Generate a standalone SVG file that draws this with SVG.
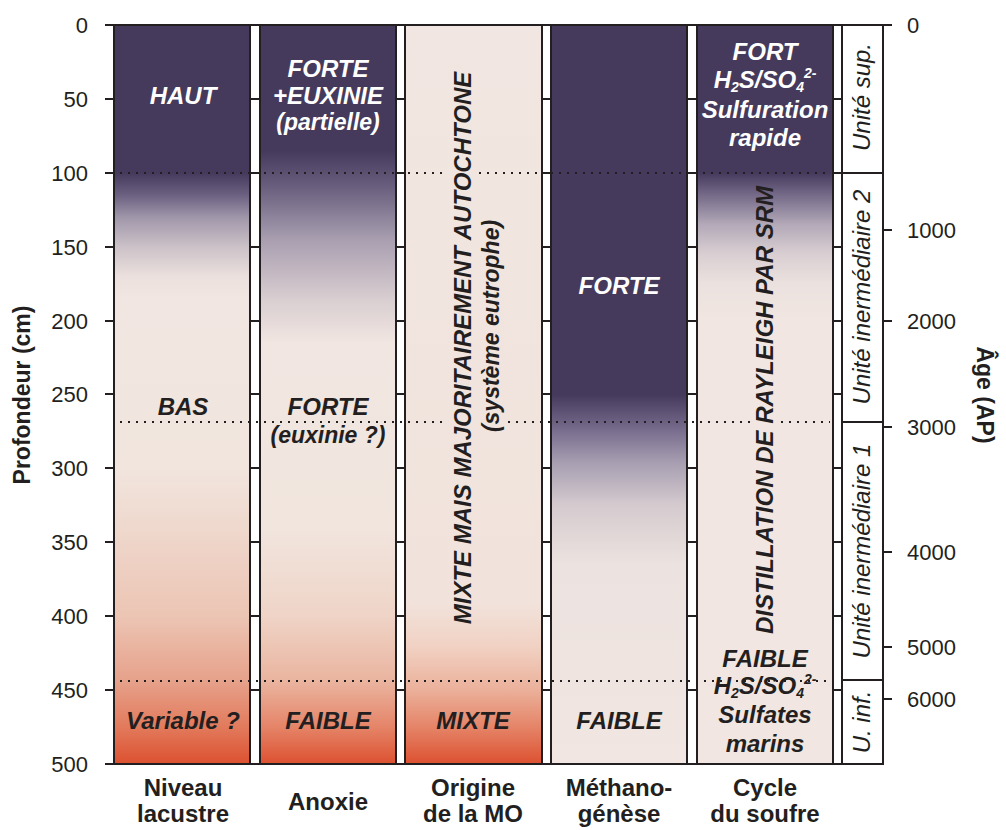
<svg xmlns="http://www.w3.org/2000/svg" width="1006" height="830" viewBox="0 0 1006 830">
<defs>
<style>
text{font-family:"Liberation Sans",Arial,sans-serif;fill:#231f20}
.ax{font-size:22px}
.axt{font-size:23px;font-weight:bold}
.lab{font-size:24px;font-weight:bold;font-style:italic;text-anchor:middle}
.par{font-size:23px}
.w{fill:#ffffff}
.bot{font-size:24px;font-weight:bold;text-anchor:middle}
.unit{font-size:24px;font-style:italic;text-anchor:middle}
.col{stroke:#231f20;stroke-width:2}
.tick{stroke:#231f20;stroke-width:2}
.dot{stroke:#231f20;stroke-width:2;stroke-dasharray:2 6}
.sub{font-size:14px}
</style>
<linearGradient id="g1" gradientUnits="userSpaceOnUse" x1="0" y1="25" x2="0" y2="764">
<stop offset="0.2" stop-color="#453a5c"/>
<stop offset="0.23" stop-color="#6b6080"/>
<stop offset="0.26" stop-color="#9f96aa"/>
<stop offset="0.3" stop-color="#cbc1c7"/>
<stop offset="0.34" stop-color="#ebe0dd"/>
<stop offset="0.37" stop-color="#f1e6e1"/>
<stop offset="0.6" stop-color="#f1e5de"/>
<stop offset="0.8" stop-color="#ecc5b4"/>
<stop offset="0.89" stop-color="#e6a089"/>
<stop offset="0.95" stop-color="#e27a5c"/>
<stop offset="1" stop-color="#dc5130"/>
</linearGradient>
<linearGradient id="g2" gradientUnits="userSpaceOnUse" x1="0" y1="25" x2="0" y2="764">
<stop offset="0.17" stop-color="#453a5c"/>
<stop offset="0.22" stop-color="#6a5f7e"/>
<stop offset="0.29" stop-color="#a89eb0"/>
<stop offset="0.37" stop-color="#d8cdd0"/>
<stop offset="0.43" stop-color="#f1e6e1"/>
<stop offset="0.68" stop-color="#f1e5de"/>
<stop offset="0.8" stop-color="#efd4c7"/>
<stop offset="0.89" stop-color="#eab39e"/>
<stop offset="0.95" stop-color="#e58468"/>
<stop offset="1" stop-color="#dc5130"/>
</linearGradient>
<linearGradient id="g3" gradientUnits="userSpaceOnUse" x1="0" y1="25" x2="0" y2="764">
<stop offset="0" stop-color="#f1e6e1"/>
<stop offset="0.78" stop-color="#f1e3dc"/>
<stop offset="0.84" stop-color="#f1d2c4"/>
<stop offset="0.9" stop-color="#ebb09a"/>
<stop offset="0.95" stop-color="#e58468"/>
<stop offset="1" stop-color="#dc5130"/>
</linearGradient>
<linearGradient id="g4" gradientUnits="userSpaceOnUse" x1="0" y1="25" x2="0" y2="764">
<stop offset="0.5" stop-color="#453a5c"/>
<stop offset="0.545" stop-color="#75698a"/>
<stop offset="0.59" stop-color="#a59cb0"/>
<stop offset="0.65" stop-color="#d5cbcf"/>
<stop offset="0.73" stop-color="#ece2df"/>
<stop offset="1" stop-color="#f1e6e1"/>
</linearGradient>
<linearGradient id="g5" gradientUnits="userSpaceOnUse" x1="0" y1="25" x2="0" y2="764">
<stop offset="0.2" stop-color="#453a5c"/>
<stop offset="0.23" stop-color="#756a88"/>
<stop offset="0.27" stop-color="#b3a9b8"/>
<stop offset="0.31" stop-color="#d9cfd2"/>
<stop offset="0.35" stop-color="#ebe1de"/>
<stop offset="0.4" stop-color="#f1e6e1"/>
<stop offset="1" stop-color="#f1e6e1"/>
</linearGradient>
</defs>
<rect width="1006" height="830" fill="#ffffff"/>

<g id="axes">
<g class="tick">
<line x1="105" y1="99" x2="842" y2="99"/>
<line x1="105" y1="173" x2="842" y2="173"/>
<line x1="105" y1="247" x2="842" y2="247"/>
<line x1="105" y1="321" x2="842" y2="321"/>
<line x1="105" y1="394" x2="842" y2="394"/>
<line x1="105" y1="468" x2="842" y2="468"/>
<line x1="105" y1="542" x2="842" y2="542"/>
<line x1="105" y1="616" x2="842" y2="616"/>
<line x1="105" y1="690" x2="842" y2="690"/>
<line x1="883" y1="230" x2="892" y2="230"/>
<line x1="883" y1="321" x2="892" y2="321"/>
<line x1="883" y1="427" x2="892" y2="427"/>
<line x1="883" y1="552" x2="892" y2="552"/>
<line x1="883" y1="647" x2="892" y2="647"/>
<line x1="883" y1="699" x2="892" y2="699"/>
</g>
<g class="ax" text-anchor="end">
<text x="88" y="33">0</text>
<text x="88" y="107">50</text>
<text x="88" y="181">100</text>
<text x="88" y="255">150</text>
<text x="88" y="329">200</text>
<text x="88" y="402">250</text>
<text x="88" y="476">300</text>
<text x="88" y="550">350</text>
<text x="88" y="624">400</text>
<text x="88" y="698">450</text>
<text x="88" y="772">500</text>
</g>
<g class="ax">
<text x="907" y="33">0</text>
<text x="907" y="238">1000</text>
<text x="907" y="329">2000</text>
<text x="907" y="435">3000</text>
<text x="907" y="560">4000</text>
<text x="907" y="655">5000</text>
<text x="907" y="707">6000</text>
</g>
<text class="axt" text-anchor="middle" transform="translate(30,395) rotate(-90)">Profondeur (cm)</text>
<text class="axt" text-anchor="middle" transform="translate(977,395) rotate(90)">Âge (AP)</text>
</g>

<g id="col-niveau">
<rect class="col" x="114" y="25" width="136" height="739" fill="url(#g1)"/>
<text class="lab w" x="183" y="104">HAUT</text>
<text class="lab" x="183" y="415">BAS</text>
<text class="lab" x="183" y="729">Variable ?</text>
<text class="bot" x="183" y="796">Niveau</text>
<text class="bot" x="183" y="822">lacustre</text>
</g>

<g id="col-anoxie">
<rect class="col" x="260" y="25" width="136" height="739" fill="url(#g2)"/>
<text class="lab w" x="328" y="77">FORTE</text>
<text class="lab w" x="328" y="104">+EUXINIE</text>
<text class="lab w par" x="328" y="130">(partielle)</text>
<text class="lab" x="328" y="415">FORTE</text>
<text class="lab par" x="328" y="443">(euxinie ?)</text>
<text class="lab" x="328" y="729">FAIBLE</text>
<text class="bot" x="328" y="810">Anoxie</text>
</g>

<g id="col-origine">
<rect class="col" x="405" y="25" width="137" height="739" fill="url(#g3)"/>
<text class="lab" transform="translate(471,348) rotate(-90)">MIXTE MAIS MAJORITAIREMENT AUTOCHTONE</text>
<text class="lab par" transform="translate(499,326) rotate(-90)">(système eutrophe)</text>
<text class="lab" x="473" y="729">MIXTE</text>
<text class="bot" x="473" y="796">Origine</text>
<text class="bot" x="473" y="822">de la MO</text>
</g>

<g id="col-methano">
<rect class="col" x="551" y="25" width="136" height="739" fill="url(#g4)"/>
<text class="lab w" x="619" y="294">FORTE</text>
<text class="lab" x="619" y="729">FAIBLE</text>
<text class="bot" x="619" y="796">Méthano-</text>
<text class="bot" x="619" y="822">génèse</text>
</g>

<g id="col-soufre">
<rect class="col" x="697" y="25" width="136" height="739" fill="url(#g5)"/>
<text class="lab w" x="765" y="60">FORT</text>
<text class="lab w" x="765" y="88">H<tspan class="sub" dy="4">2</tspan><tspan dy="-4">S/SO</tspan><tspan class="sub" dy="4">4</tspan><tspan class="sub" dy="-14">2-</tspan></text>
<text class="lab w" x="765" y="118">Sulfuration</text>
<text class="lab w" x="765" y="146">rapide</text>
<text class="lab" transform="translate(773,410) rotate(-90)">DISTILLATION DE RAYLEIGH PAR SRM</text>
<text class="lab" x="765" y="667">FAIBLE</text>
<text class="lab" x="765" y="694">H<tspan class="sub" dy="4">2</tspan><tspan dy="-4">S/SO</tspan><tspan class="sub" dy="4">4</tspan><tspan class="sub" dy="-14">2-</tspan></text>
<text class="lab" x="765" y="723">Sulfates</text>
<text class="lab" x="765" y="752">marins</text>
<text class="bot" x="765" y="796">Cycle</text>
<text class="bot" x="765" y="822">du soufre</text>
</g>

<g id="col-unites">
<rect class="col" x="842" y="25" width="41" height="148" fill="#ffffff"/>
<rect class="col" x="842" y="173" width="41" height="249" fill="#ffffff"/>
<rect class="col" x="842" y="422" width="41" height="258" fill="#ffffff"/>
<rect class="col" x="842" y="680" width="41" height="84" fill="#ffffff"/>
<text class="unit" transform="translate(870,97) rotate(-90)">Unité sup.</text>
<text class="unit" transform="translate(870,297) rotate(-90)">Unité inermédiaire 2</text>
<text class="unit" transform="translate(870,551) rotate(-90)">Unité inermédiaire 1</text>
<text class="unit" transform="translate(870,722) rotate(-90)">U. inf.</text>
</g>

<g id="frame" class="tick">
<line x1="105" y1="25" x2="892" y2="25"/>
<line x1="105" y1="764" x2="883" y2="764"/>
</g>

<g id="dotted-lines" class="dot">
<line x1="120" y1="173" x2="446" y2="173"/>
<line x1="479" y1="173" x2="830" y2="173"/>
<line x1="120" y1="422" x2="446" y2="422"/>
<line x1="508" y1="422" x2="751" y2="422"/>
<line x1="781" y1="422" x2="830" y2="422"/>
<line x1="120" y1="681" x2="830" y2="681"/>
</g>
</svg>
